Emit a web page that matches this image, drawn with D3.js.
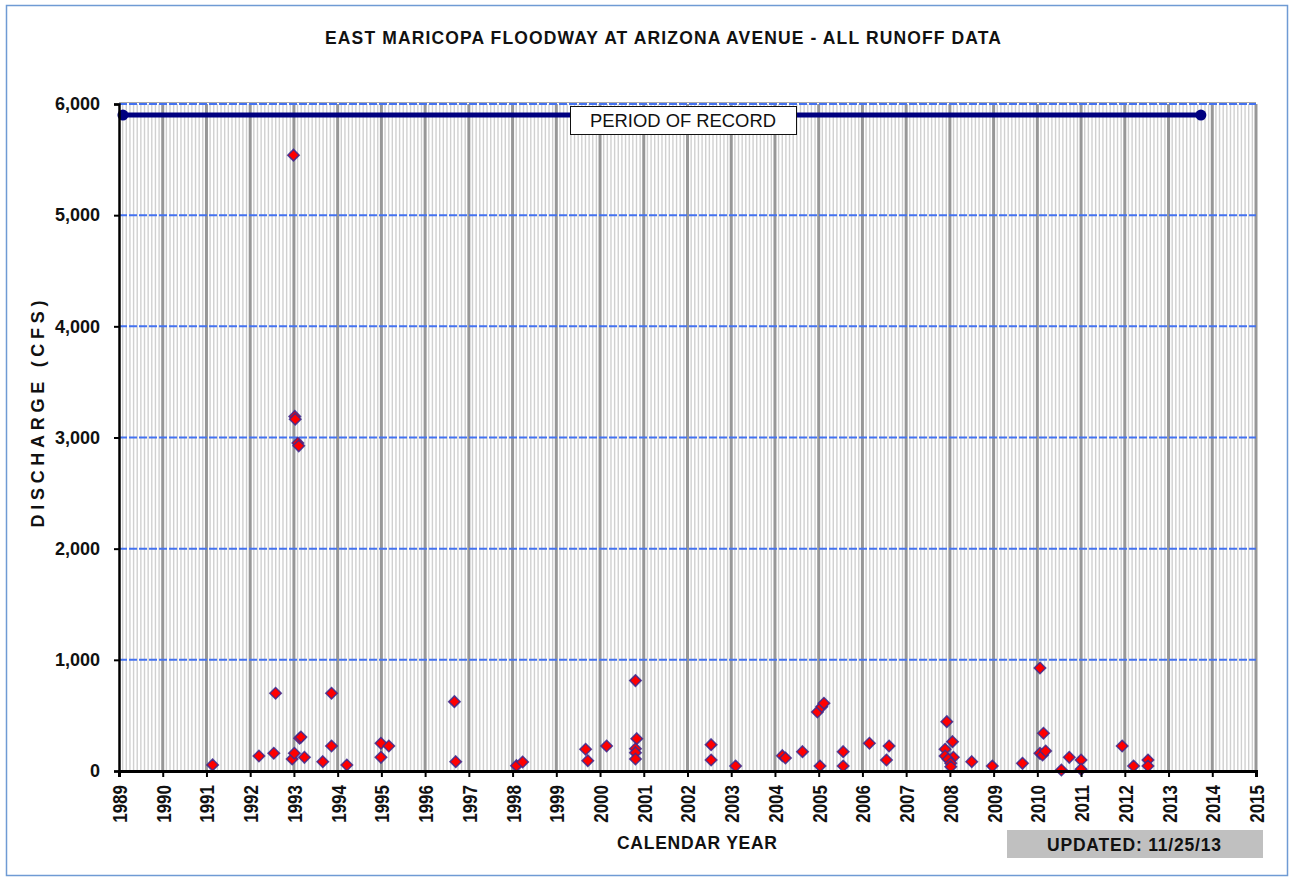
<!DOCTYPE html>
<html>
<head>
<meta charset="utf-8">
<script src="https://cdn.jsdelivr.net/npm/d3@7"></script>
<style>
  html, body { margin: 0; padding: 0; background: #fff; }
  svg { display: block; }
  text { font-family: "Liberation Sans", Arial, sans-serif; fill: #111; }
</style>
</head>
<body>
<svg id="chart" width="1289" height="877"></svg>
<script>
// Runoff events: decimal calendar year and peak discharge (cfs)
const eventYears = [
  1991.14, 1992.20, 1992.54, 1992.58, 1992.96, 1992.99, 1993.01, 1993.02, 1993.03,
  1993.09, 1993.11, 1993.13, 1993.16, 1993.24, 1993.66, 1993.86, 1993.86, 1994.21,
  1994.99, 1994.99, 1995.17, 1996.67, 1996.70, 1998.09, 1998.23, 1999.67, 1999.72,
  2000.15, 2000.81, 2000.84, 2000.81, 2000.81, 2000.81, 2002.54, 2002.54, 2003.10,
  2004.17, 2004.24, 2004.63, 2004.97, 2005.07, 2005.12, 2005.03, 2005.56, 2005.56,
  2006.16, 2006.61, 2006.55, 2007.93, 2008.06, 2007.89, 2007.89, 2008.08, 2007.96,
  2008.02, 2008.02, 2008.50, 2008.97, 2009.66, 2010.06, 2010.14, 2010.06, 2010.12,
  2010.19, 2010.55, 2010.73, 2011.00, 2011.00, 2011.94, 2012.20, 2012.53, 2012.53
];
const eventCfs = [
  55, 135, 160, 700, 108, 5540, 160, 3190, 3165,
  2950, 2925, 295, 305, 123, 84, 700, 225, 54,
  249, 123, 225, 624, 84, 48, 81, 195, 93,
  225, 813, 291, 200, 165, 108, 237, 99, 45,
  138, 117, 174, 531, 579, 609, 45, 174, 45,
  249, 225, 99, 444, 264, 195, 135, 123, 105,
  69, 39, 84, 45, 69, 927, 339, 159, 144,
  180, 9, 123, 99, 15, 225, 45, 99, 45
];

// Period of record bar
const recordStart = 1989.09;
const recordEnd = 2013.74;
const recordLevel = 5900;

// Axis ticks
const yearTicks = d3.range(1989, 2016);
const cfsTicks = [0, 1000, 2000, 3000, 4000, 5000, 6000];

const titleText = "EAST MARICOPA  FLOODWAY AT ARIZONA AVENUE - ALL RUNOFF DATA";
const updatedText = "UPDATED:  11/25/13";
const FONT = "Liberation Sans, Arial, sans-serif";

const svg = d3.select("#chart");

// Outer frame
svg.append("rect")
  .attr("x", 6.5).attr("y", 5.5).attr("width", 1281).attr("height", 870)
  .attr("fill", "#fff").attr("stroke", "#6f9bd4").attr("stroke-width", 1.5);

const x = d3.scaleLinear().domain([1989, 2015]).range([119, 1256]);
const y = d3.scaleLinear().domain([0, 6000]).range([771, 104]);

const plot = svg.append("g");

// Monthly minor gridlines
const months = d3.range(1989 * 12, 2015 * 12 + 1).map(m => m / 12)
  .filter(v => Math.abs(v - Math.round(v)) > 1e-6);
plot.append("g").selectAll("line").data(months).join("line")
  .attr("x1", d => x(d)).attr("x2", d => x(d))
  .attr("y1", y(6000)).attr("y2", y(0))
  .attr("stroke", "#d0d0d0").attr("stroke-width", 1.4);

// Yearly major gridlines
plot.append("g").selectAll("line").data(yearTicks.slice(1)).join("line")
  .attr("x1", d => x(d)).attr("x2", d => x(d))
  .attr("y1", y(6000)).attr("y2", y(0))
  .attr("stroke", "#979797").attr("stroke-width", 3);

// Top plot edge
plot.append("line")
  .attr("x1", x(1989)).attr("x2", x(2015))
  .attr("y1", y(6000) - 1.5).attr("y2", y(6000) - 1.5)
  .attr("stroke", "#a9a9a9").attr("stroke-width", 1);

// Horizontal dashed gridlines
plot.append("g").selectAll("line").data(cfsTicks.slice(1)).join("line")
  .attr("x1", x(1989)).attr("x2", x(2015))
  .attr("y1", d => y(d)).attr("y2", d => y(d))
  .attr("stroke", "#4472f0").attr("stroke-width", 2)
  .attr("stroke-dasharray", "8,2");

// Y axis
const yAxis = d3.axisLeft(y).tickValues(cfsTicks).tickSize(5).tickPadding(14)
  .tickFormat(d3.format(","));
const gy = svg.append("g").attr("transform", `translate(${x(1989)},0)`).call(yAxis);
gy.select(".domain").attr("stroke", "#000").attr("stroke-width", 2.5);
gy.selectAll(".tick line").attr("stroke", "#000").attr("stroke-width", 2);
gy.selectAll(".tick text")
  .attr("font-family", FONT)
  .attr("font-weight", "bold").attr("font-size", 18).attr("fill", "#111");

// X axis (year labels read bottom-to-top, slightly stretched across)
const xAxis = d3.axisBottom(x).tickValues(yearTicks).tickSize(6).tickFormat(d3.format("d"));
const gx = svg.append("g").attr("transform", `translate(0,${y(0)})`).call(xAxis);
gx.select(".domain").attr("stroke", "#000").attr("stroke-width", 3);
gx.selectAll(".tick line").attr("stroke", "#000").attr("stroke-width", 2);
gx.selectAll(".tick text")
  .attr("font-family", FONT)
  .attr("font-weight", "bold").attr("font-size", 17).attr("fill", "#111")
  .attr("text-anchor", "end").attr("dy", "0.36em")
  .attr("transform", "translate(0,14) rotate(-90) scale(1,1.22)")
  .attr("x", 0).attr("y", 0);

// Period of record bar
plot.append("line")
  .attr("x1", x(recordStart)).attr("x2", x(recordEnd))
  .attr("y1", y(recordLevel)).attr("y2", y(recordLevel))
  .attr("stroke", "#000080").attr("stroke-width", 5);
plot.append("g").selectAll("circle").data([recordStart, recordEnd]).join("circle")
  .attr("cx", d => x(d)).attr("cy", y(recordLevel)).attr("r", 5.5)
  .attr("fill", "#000080");

// Period of record label
svg.append("rect")
  .attr("x", 570.5).attr("y", 106.5).attr("width", 226).attr("height", 28)
  .attr("fill", "#fff").attr("stroke", "#111").attr("stroke-width", 1);
svg.append("text")
  .attr("x", 683).attr("y", 121).attr("text-anchor", "middle")
  .attr("dominant-baseline", "central")
  .attr("font-size", 18).attr("textLength", 186).attr("lengthAdjust", "spacingAndGlyphs")
  .text("PERIOD OF RECORD");

// Runoff event markers
const events = eventYears.map((yr, i) => ({ yr, cfs: eventCfs[i] }));
const diamond = d3.symbol().type(d3.symbolDiamond2).size(84);
plot.append("g").selectAll("path").data(events).join("path")
  .attr("transform", d => `translate(${x(d.yr)},${y(d.cfs)})`)
  .attr("d", diamond)
  .attr("fill", "#ff0000").attr("stroke", "#3b2a8f").attr("stroke-width", 1.5)
  .attr("stroke-opacity", 0.85);

// Title
svg.append("text")
  .attr("x", 663).attr("y", 38).attr("text-anchor", "middle")
  .attr("dominant-baseline", "central")
  .attr("font-weight", "bold").attr("font-size", 17.5)
  .attr("textLength", 676).attr("lengthAdjust", "spacing")
  .text(titleText);

// Axis titles
svg.append("text")
  .attr("transform", "translate(38,414) rotate(-90)")
  .attr("text-anchor", "middle").attr("dominant-baseline", "central")
  .attr("font-weight", "bold").attr("font-size", 18)
  .attr("textLength", 227).attr("lengthAdjust", "spacing")
  .text("DISCHARGE  (CFS)");

svg.append("text")
  .attr("x", 697).attr("y", 843).attr("text-anchor", "middle")
  .attr("dominant-baseline", "central")
  .attr("font-weight", "bold").attr("font-size", 17.5)
  .attr("textLength", 160).attr("lengthAdjust", "spacing")
  .text("CALENDAR YEAR");

// Update stamp
svg.append("rect")
  .attr("x", 1007).attr("y", 830).attr("width", 256).attr("height", 28)
  .attr("fill", "#c0c0c0");
svg.append("text")
  .attr("x", 1134).attr("y", 844.5).attr("text-anchor", "middle")
  .attr("dominant-baseline", "central")
  .attr("font-weight", "bold").attr("font-size", 17.5)
  .attr("textLength", 174).attr("lengthAdjust", "spacing")
  .text(updatedText);
</script>
</body>
</html>
